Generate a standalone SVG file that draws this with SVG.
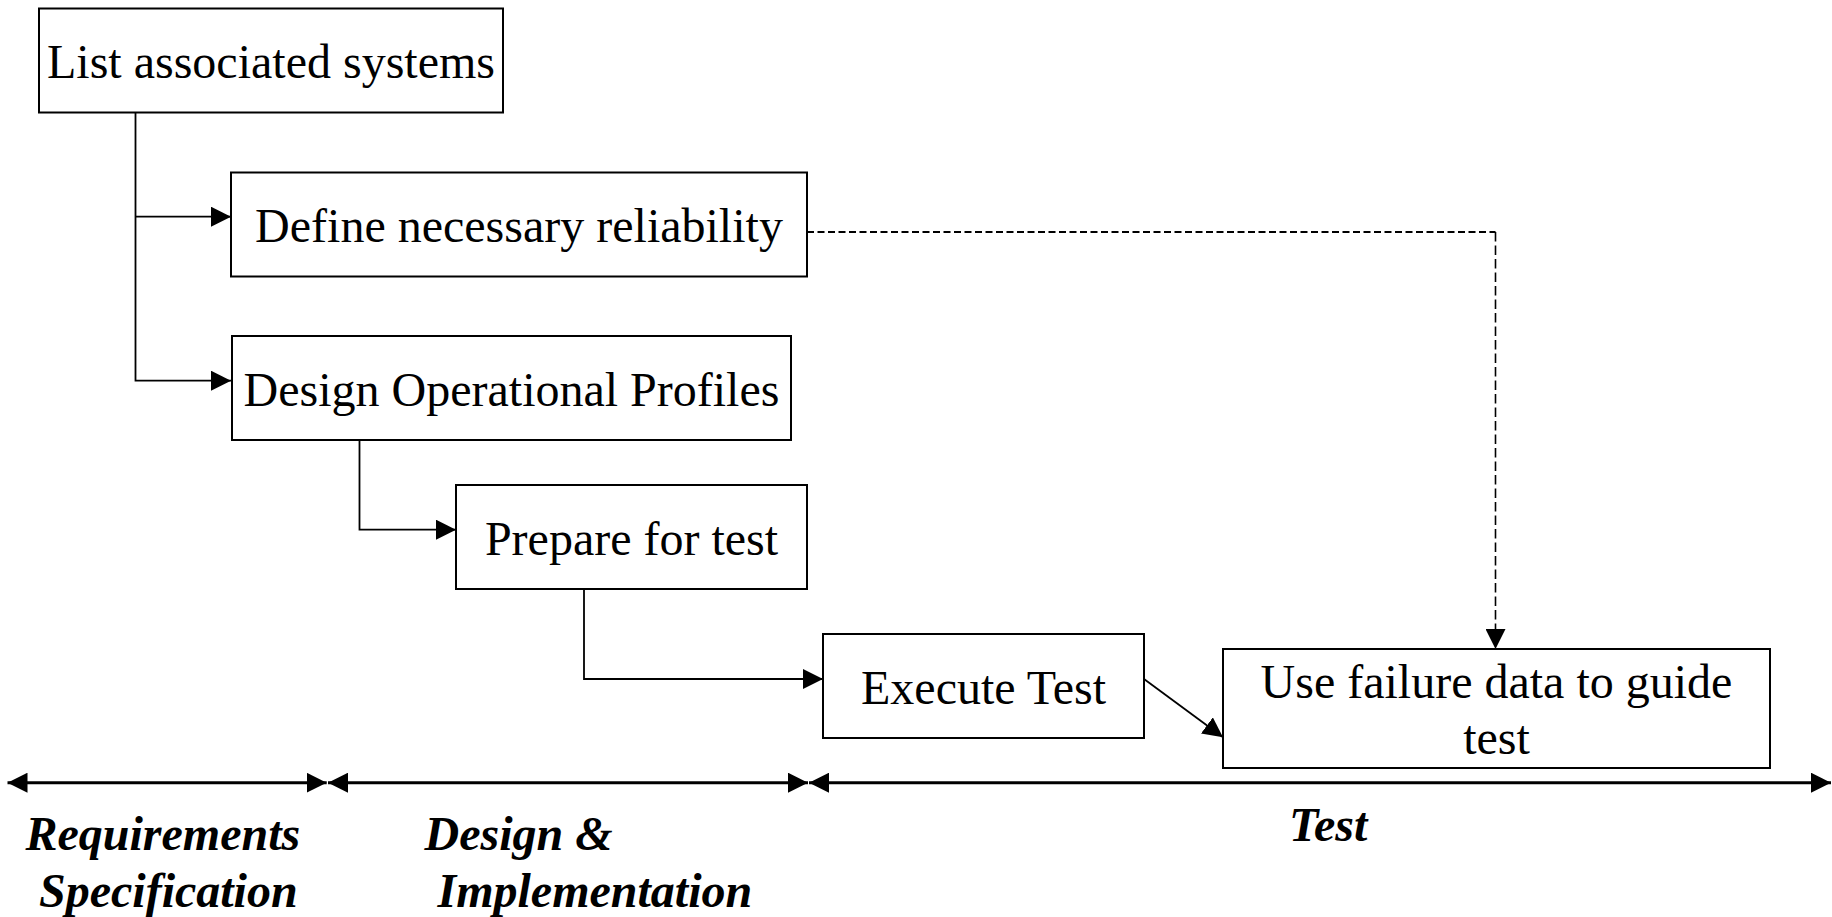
<svg xmlns="http://www.w3.org/2000/svg" width="1832" height="917" viewBox="0 0 1832 917">
<style>
.box{fill:#fff;stroke:#000;stroke-width:2}
.t{font-family:"Liberation Serif","Times New Roman",serif;font-size:48px;fill:#000;text-anchor:middle}
.lbl{font-family:"Liberation Serif","Times New Roman",serif;font-size:48px;font-weight:bold;font-style:italic;fill:#000}
.c{fill:none;stroke:#000;stroke-width:1.8}
.dh{fill:none;stroke:#000;stroke-width:2;stroke-dasharray:7 3.5}
.dv{fill:none;stroke:#000;stroke-width:1.6;stroke-dasharray:9.5 4}
.tl{fill:none;stroke:#000;stroke-width:3}
</style>
<defs>
<marker id="ah" viewBox="0 0 20 20" markerWidth="20" markerHeight="20" refX="20" refY="10" markerUnits="userSpaceOnUse" orient="auto-start-reverse">
<path d="M0,0 L20,10 L0,20 Z" fill="#000"/>
</marker>
</defs>
<rect width="1832" height="917" fill="#fff"/>
<g id="connectors">
<path class="c" d="M135.5,112.5 V380.7 H231" marker-end="url(#ah)"/>
<path class="c" d="M135.5,216.7 H231" marker-end="url(#ah)"/>
<path class="c" d="M359.5,440 V529.7 H456" marker-end="url(#ah)"/>
<path class="c" d="M584,589 V679 H823" marker-end="url(#ah)"/>
<path class="c" d="M1144,679 L1223,737.3" marker-end="url(#ah)"/>
<path class="dh" d="M807,232 H1495.5"/>
<path class="dv" d="M1495.5,232 V649" marker-end="url(#ah)"/>
</g>
<g id="n1"><rect class="box" x="39" y="8.5" width="464" height="104"/><text class="t" x="271" y="78.3">List associated systems</text></g>
<g id="n2"><rect class="box" x="231" y="172.5" width="576" height="104"/><text class="t" x="519" y="242">Define necessary reliability</text></g>
<g id="n3"><rect class="box" x="232" y="336" width="559" height="104"/><text class="t" x="511.5" y="406">Design Operational Profiles</text></g>
<g id="n4"><rect class="box" x="456" y="485" width="351" height="104"/><text class="t" x="631.5" y="555">Prepare for test</text></g>
<g id="n5"><rect class="box" x="823" y="634" width="321" height="104"/><text class="t" x="983.5" y="703.5">Execute Test</text></g>
<g id="n6"><rect class="box" x="1223" y="649" width="547" height="119"/><text class="t" x="1496.5" y="698"><tspan x="1496.5">Use failure data to guide</tspan><tspan x="1496.5" y="753.5">test</tspan></text></g>
<g id="timeline">
<path class="tl" d="M7.5,782.7 H326.7" marker-start="url(#ah)" marker-end="url(#ah)"/>
<path class="tl" d="M328,782.7 H808" marker-start="url(#ah)" marker-end="url(#ah)"/>
<path class="tl" d="M809,782.7 H1831" marker-start="url(#ah)" marker-end="url(#ah)"/>
</g>
<g id="labels">
<text class="lbl" x="25.5" y="850">Requirements</text>
<text class="lbl" x="39" y="907">Specification</text>
<text class="lbl" x="424.5" y="850">Design &amp;</text>
<text class="lbl" x="437.5" y="907">Implementation</text>
<text class="lbl" x="1289" y="841">Test</text>
</g>
</svg>
